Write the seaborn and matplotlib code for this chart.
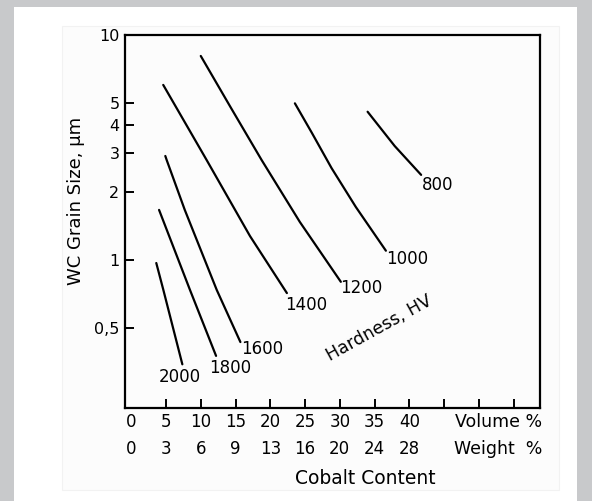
import matplotlib
matplotlib.use("Agg")
import matplotlib.pyplot as plt
import pandas as pd
import seaborn as sns
from matplotlib.patches import Rectangle
from matplotlib.ticker import NullLocator

# Hardness contours (HV): cobalt content (volume %) vs WC grain size (um)
hv_levels = [2000, 1800, 1600, 1400, 1200, 1000, 800]

vol_2000 = [3.6, 4.6, 7.35]
size_2000 = [0.97, 0.74, 0.344]
vol_1800 = [4.0, 8.45, 12.2]
size_1800 = [1.67, 0.736, 0.375]
vol_1600 = [4.9, 5.1, 7.7, 12.3, 15.7]
size_1600 = [2.90, 2.78, 1.67, 0.736, 0.432]
vol_1400 = [4.6, 10.85, 17.08, 22.39]
size_1400 = [6.00, 2.78, 1.278, 0.713]
vol_1200 = [10.0, 14.35, 18.76, 24.26, 30.15]
size_1200 = [8.07, 4.74, 2.78, 1.475, 0.80]
vol_1000 = [23.54, 25.99, 28.82, 32.31, 36.63]
size_1000 = [4.97, 3.67, 2.56, 1.72, 1.10]
vol_800 = [34.0, 37.9, 41.7]
size_800 = [4.56, 3.21, 2.39]

# axis scales: volume % with matching weight %
vol_ticks = [0, 5, 10, 15, 20, 25, 30, 35, 40]
wt_ticks = [0, 3, 6, 9, 13, 16, 20, 24, 28]
size_ticks = [0.5, 1, 2, 3, 4, 5, 10]
size_tick_labels = ["0,5", "1", "2", "3", "4", "5", "10"]

curves = {
    2000: (vol_2000, size_2000),
    1800: (vol_1800, size_1800),
    1600: (vol_1600, size_1600),
    1400: (vol_1400, size_1400),
    1200: (vol_1200, size_1200),
    1000: (vol_1000, size_1000),
    800: (vol_800, size_800),
}
rows = []
for hv, (vs, ss) in curves.items():
    for v, s in zip(vs, ss):
        rows.append({"hv": hv, "vol": v, "size": s})
df = pd.DataFrame(rows)

# label offsets from the end of each curve, in points
label_offsets = {2000: (-2, -9), 1800: (10, -9), 1600: (15.5, -5), 1400: (14, -8.4),
                 1200: (15, -4.5), 1000: (15.5, -6), 800: (12, -7)}

sns.set_style("ticks")
plt.rcParams['font.family'] = ['DejaVu Sans']
plt.rcParams['text.color'] = 'black'
plt.rcParams['axes.labelcolor'] = 'black'
plt.rcParams['xtick.color'] = 'black'
plt.rcParams['ytick.color'] = 'black'

fig = plt.figure(figsize=(5.92, 5.01), dpi=100, facecolor='#c8c9cb')
fig.add_artist(Rectangle((14/592, 0), (577-14)/592, 1-7/501, transform=fig.transFigure,
                         facecolor='white', edgecolor='none', zorder=-3))
fig.add_artist(Rectangle((62/592, 1-490/501), (559-62)/592, (490-26)/501, transform=fig.transFigure,
                         facecolor='#fcfcfc', edgecolor='#f2f2f2', lw=0.8, zorder=-2))
ax = fig.add_axes([125/592, 1-408/501, (540-125)/592, (408-35)/501])
ax.set_facecolor('none')

sns.lineplot(data=df, x='vol', y='size', units='hv', estimator=None, sort=False,
             color='black', lw=1.6, ax=ax, legend=False)

ax.set_yscale('log')
ax.set_ylim(0.22, 10)
ax.set_xlim(-0.9, 58.8)

ax.set_yticks(size_ticks)
ax.set_yticklabels(size_tick_labels)
ax.yaxis.set_minor_locator(NullLocator())
ax.set_xticks(range(5, 60, 5))
ax.set_xticklabels([])
ax.tick_params(direction='in', length=6.5, width=1.4, color='black', labelcolor='black',
               labelsize=11.5, pad=4)

for s in ax.spines.values():
    s.set_linewidth(1.6)
    s.set_color('black')

# two-row cobalt scale under the axis
row_tf = ax.get_xaxis_transform()
for v, w in zip(vol_ticks, wt_ticks):
    ax.text(v, -0.0375, str(v), transform=row_tf, ha='center', va='center', fontsize=12)
    ax.text(v, -0.110, str(w), transform=row_tf, ha='center', va='center', fontsize=12)
ax.text(1.005, -0.0375, 'Volume %', transform=ax.transAxes, ha='right', va='center', fontsize=12.5)
ax.text(1.005, -0.110, 'Weight  %', transform=ax.transAxes, ha='right', va='center', fontsize=12.5)

ax.set_xlabel('Cobalt Content', fontsize=13.5)
ax.xaxis.set_label_coords(0.578, -0.188)
ax.xaxis.label.set_va('center')
ax.set_ylabel('WC Grain Size, μm', fontsize=13)
ax.yaxis.set_label_coords(-0.118, 0.555)
ax.yaxis.label.set_va('center')

for hv in hv_levels:
    vs, ss = curves[hv]
    ax.annotate(str(hv), xy=(vs[-1], ss[-1]), xytext=label_offsets[hv], textcoords='offset points',
                ha='center', va='center', fontsize=12)

ax.text(35.6, 0.499, 'Hardness, HV', rotation=29, rotation_mode='anchor',
        ha='center', va='center', fontsize=12.5)

fig.savefig('out.png', dpi=100, facecolor=fig.get_facecolor())
